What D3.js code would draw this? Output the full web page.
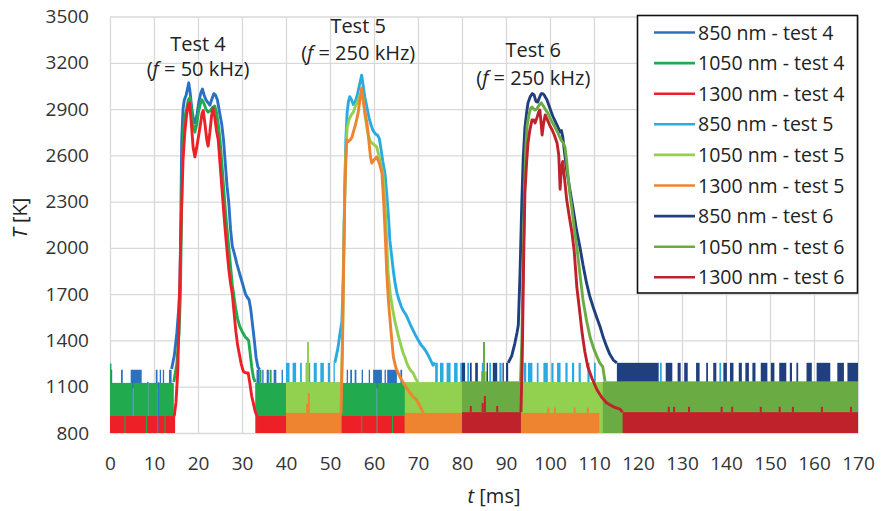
<!DOCTYPE html>
<html><head><meta charset="utf-8">
<script src="https://cdnjs.cloudflare.com/ajax/libs/d3/7.8.5/d3.min.js"></script>
<style>body{margin:0;background:#fff;} svg{display:block;font-family:"Open Sans",sans-serif;}</style>
</head><body><svg id="c" width="887" height="511"></svg>
<script>
// ---------------- DATA ----------------
const xTickValues = [0,10,20,30,40,50,60,70,80,90,100,110,120,130,140,150,160,170];
const yTickValues = [800,1100,1400,1700,2000,2300,2600,2900,3200,3500];
const seriesNames = ["850 nm - test 4","1050 nm - test 4","1300 nm - test 4",
  "850 nm - test 5","1050 nm - test 5","1300 nm - test 5",
  "850 nm - test 6","1050 nm - test 6","1300 nm - test 6"];
const annotations = [
  {test:"Test 4", freq:"50 kHz", t:20.0},
  {test:"Test 5", freq:"250 kHz", t:56.4},
  {test:"Test 6", freq:"250 kHz", t:96.2}
];

// baseline levels (K) of the noise floor of each series
const baseTop = [1210,1125,910, 1255,1130,930, 1255,1135,935];
// 850 nm noise blocks [t0,t1] (ms)
const blocks4_850 = [[0,0.5],[2.5,2.9],[4.7,7.2],[10.4,10.8],[11.3,11.6],[12.0,12.3],[13.4,14.0],[33.3,34.0],[34.6,34.9],[35.6,36.1],[37.2,37.8],[39.0,39.3],[53.8,54.1],[54.6,55.0],[55.6,56.0],[57.2,57.5],[58.8,59.1],[59.8,61.8],[62.4,62.7],[63.0,65.2],[66.0,66.4]];
const dips4_850 = [5.2,8.6,11.0,60.7];
const blocks5_850 = [[40,40.8],[41.5,42.3],[43.2,43.6],[44.5,45.5],[46.3,47],[47.8,48.6],[49.5,50],[50.8,51.1],[73.9,74.5],[75,75.8],[76.5,77.4],[78.2,79],[79.6,80.5],[81.2,81.6],[84.5,85.2],[86.2,86.6],[88.5,89],[94,94.6],[95,96],[97,97.4],[98.5,99.5],[100.3,100.8],[101.6,102.4],[103.5,104],[105,105.5],[106.5,107],[108.5,109],[110,110.4],[125,125.4],[138.5,138.9]];
const blocks6_850 = [[80,80.7],[81.8,82.2],[83,83.6],[85.6,85.9],[87,88],[89.2,89.5],[90,90.5],[115.2,124.7],[126.3,127.8],[129,129.7],[130.5,131.3],[133.2,134],[135.5,135.9],[137.1,137.8],[139.4,140.2],[140.9,141.7],[142.9,143.6],[144.4,145.2],[146,146.7],[147.9,149.4],[150.2,151],[152.1,153.7],[154.5,155],[156,156.4],[158.3,159.5],[160.6,163.7],[165.3,166.8],[167.6,170]];
// 1050 / 1300 nm noise floor intervals, gaps (ms) and spikes [t,T]
const floor4_1050 = [[0,14.5],[33.0,67.3]];
const gaps4_1050 = [5.2,8.6,11.0,60.7];
const spikes4_1050 = [[0.1,1250],[34.2,1210],[36.5,1210]];
const floor4_1300 = [[0,14.8],[33.2,67.3]];
const gaps4_1300 = [3.4,8.3,10.9,12.5,57.2,60.7,64.2];
const spikes4_1300 = [];
const floor5_1050 = [[40,52.6],[67.0,112.6]];
const gaps5_1050 = [];
const spikes5_1050 = [[44.7,1250],[45.0,1390],[85.5,1200]];
const floor5_1300 = [[40,52.5],[67.0,111.2]];
const gaps5_1300 = [];
const spikes5_1300 = [[44.8,990],[45.2,1060],[99.6,965],[101.1,965],[105.6,965],[108.6,965]];
const floor6_1050 = [[80,93.3],[112.0,170]];
const gaps6_1050 = [];
const spikes6_1050 = [[84.6,1200],[85.0,1390]];
const floor6_1300 = [[80,93.4],[116.5,170]];
const gaps6_1300 = [];
const spikes6_1300 = [[82,975],[84.7,995],[85.2,1040],[88,975],[127,970],[128.2,970],[131.6,970],[139,970],[141.4,970],[147.9,970],[152.2,970],[155.2,970],[161.8,970],[168.4,970]];

// pulses [t (ms), T (K)]
const pulse4_850 = [[14.0,1215],[14.6,1300],[15.2,1450],[15.6,1600],[15.9,1750],[16.1,2200],[16.3,2700],[16.6,2900],[16.9,2960],[17.3,2990],[17.6,3030],[17.9,3070],[18.2,3010],[18.6,2900],[19.0,2830],[19.4,2810],[19.8,2870],[20.2,2950],[20.6,3000],[21.0,3030],[21.4,2990],[21.8,2960],[22.3,2940],[22.7,2925],[23.1,2960],[23.6,3000],[24.0,2990],[24.4,2960],[24.9,2880],[25.4,2800],[25.8,2700],[26.2,2550],[26.6,2400],[27.0,2290],[27.4,2120],[27.8,2010],[28.3,1960],[28.8,1900],[29.3,1850],[29.8,1800],[30.3,1750],[30.8,1700],[31.2,1680],[31.6,1665],[32.0,1600],[32.4,1500],[32.8,1400],[33.2,1290],[33.6,1230],[34.0,1210]];
const pulse4_1050 = [[14.5,1130],[15.2,1250],[15.7,1450],[16.0,1700],[16.2,2100],[16.4,2500],[16.7,2750],[17.0,2850],[17.4,2900],[17.8,2960],[18.2,2975],[18.5,2900],[18.9,2800],[19.3,2750],[19.7,2800],[20.1,2880],[20.5,2930],[20.9,2960],[21.3,2940],[21.8,2900],[22.3,2880],[22.8,2890],[23.3,2910],[23.8,2920],[24.2,2880],[24.6,2800],[25.0,2700],[25.4,2560],[25.8,2400],[26.2,2250],[26.6,2120],[27.0,2000],[27.4,1880],[27.8,1760],[28.2,1680],[28.6,1600],[29.0,1540],[29.5,1490],[30.0,1460],[30.4,1440],[30.8,1420],[31.2,1410],[31.5,1400],[31.8,1330],[32.2,1230],[32.6,1160],[33.0,1130]];
const pulse4_1300 = [[14.6,910],[15.0,1000],[15.4,1200],[15.8,1700],[16.2,2200],[16.6,2570],[17.0,2750],[17.4,2860],[17.8,2930],[18.1,2940],[18.5,2800],[18.9,2650],[19.3,2590],[19.7,2650],[20.1,2720],[20.5,2790],[20.9,2870],[21.2,2890],[21.6,2800],[22.0,2700],[22.3,2660],[22.7,2750],[23.1,2860],[23.4,2905],[23.8,2850],[24.2,2760],[24.6,2700],[25.0,2550],[25.4,2400],[25.8,2250],[26.2,2110],[26.6,1980],[27.0,1860],[27.4,1770],[27.8,1700],[28.2,1580],[28.6,1460],[29.0,1370],[29.4,1310],[29.8,1250],[30.3,1200],[30.8,1190],[31.4,1190],[31.8,1120],[32.2,1040],[32.6,990],[33.0,940],[33.4,910]];
const pulse5_850 = [[51.1,1255],[51.8,1350],[52.3,1450],[52.7,1520],[53.0,1800],[53.3,2300],[53.6,2700],[53.9,2880],[54.2,2950],[54.5,2980],[54.9,2960],[55.3,2930],[55.7,2945],[56.1,2980],[56.5,3030],[56.9,3080],[57.2,3120],[57.5,3060],[57.9,2980],[58.4,2910],[58.9,2840],[59.4,2790],[59.8,2760],[60.3,2740],[60.8,2730],[61.2,2710],[61.6,2640],[62.0,2560],[62.5,2480],[62.9,2350],[63.3,2200],[63.6,2050],[64.0,1950],[64.4,1850],[64.8,1770],[65.2,1710],[65.7,1660],[66.2,1620],[66.7,1590],[67.2,1570],[67.7,1540],[68.3,1500],[68.9,1465],[69.5,1430],[70.1,1400],[70.7,1370],[71.2,1355],[71.8,1330],[72.4,1300],[72.9,1270],[73.4,1240],[73.9,1255]];
const pulse5_1050 = [[52.6,1130],[52.9,1500],[53.2,2100],[53.5,2550],[53.9,2780],[54.3,2830],[54.8,2860],[55.3,2880],[55.8,2920],[56.3,2950],[56.8,2990],[57.2,3005],[57.6,2950],[58.0,2850],[58.5,2760],[59.0,2700],[59.5,2680],[60.0,2670],[60.6,2655],[61.1,2600],[61.6,2530],[62.0,2485],[62.4,2350],[62.8,2100],[63.2,1840],[63.7,1700],[64.2,1610],[64.7,1530],[65.2,1470],[65.7,1410],[66.2,1360],[66.6,1320],[67.0,1293],[67.5,1250],[68.0,1220],[68.5,1200],[68.9,1189],[69.5,1150],[70.0,1130]];
const pulse5_1300 = [[52.5,930],[52.8,1300],[53.1,1900],[53.4,2400],[53.8,2700],[54.2,2690],[54.6,2700],[55.0,2719],[55.4,2760],[55.8,2800],[56.4,2875],[56.8,2960],[57.2,3036],[57.6,2950],[58.0,2870],[58.4,2810],[58.8,2700],[59.2,2590],[59.5,2550],[60.0,2570],[60.6,2589],[61.2,2550],[61.8,2485],[62.2,2300],[62.6,2050],[62.9,1837],[63.3,1650],[63.8,1480],[64.4,1293],[65.0,1220],[65.9,1163],[66.8,1120],[67.7,1079],[68.7,1040],[69.7,1014],[70.5,970],[71.2,930]];
const pulse6_850 = [[90.5,1255],[91.3,1300],[92.0,1380],[92.5,1450],[92.8,1500],[93.2,1850],[93.6,2300],[93.9,2570],[94.3,2780],[94.7,2880],[95.0,2940],[95.5,2980],[96.0,3000],[96.4,2990],[96.8,2950],[97.2,2945],[97.6,2975],[98.0,3000],[98.4,3000],[98.8,2985],[99.3,2960],[99.8,2920],[100.3,2880],[100.7,2850],[101.2,2820],[101.7,2790],[102.3,2751],[102.6,2760],[102.9,2720],[103.3,2620],[103.8,2505],[104.5,2380],[105.3,2246],[106.0,2120],[106.8,2006],[107.5,1890],[108.3,1773],[109.0,1690],[109.8,1617],[110.6,1550],[111.4,1487],[112.1,1420],[112.9,1358],[113.6,1310],[114.4,1273],[115.2,1255]];
const pulse6_1050 = [[93.3,1135],[93.6,1400],[93.9,1900],[94.2,2350],[94.5,2650],[94.8,2790],[95.2,2860],[95.6,2905],[95.9,2913],[96.3,2900],[96.6,2894],[97.0,2900],[97.5,2925],[98.0,2940],[98.5,2920],[99.0,2895],[99.5,2875],[100.2,2830],[101.0,2790],[101.8,2745],[102.5,2700],[103.0,2680],[103.4,2654],[103.8,2560],[104.2,2440],[104.5,2356],[105.0,2250],[105.5,2130],[106.1,2006],[106.8,1830],[107.5,1662],[108.3,1530],[109.1,1422],[109.9,1350],[110.7,1293],[111.3,1255],[112.0,1228],[112.5,1135]];
const pulse6_1300 = [[93.4,935],[93.7,1300],[94.0,1900],[94.3,2356],[94.7,2560],[95.0,2680],[95.4,2760],[95.9,2829],[96.3,2830],[96.6,2810],[97.0,2840],[97.4,2880],[97.7,2894],[98.0,2800],[98.2,2732],[98.5,2800],[98.9,2862],[99.4,2830],[100.0,2790],[100.5,2764],[101.0,2730],[101.6,2680],[102.0,2600],[102.3,2380],[102.6,2520],[102.9,2560],[103.3,2450],[103.8,2310],[104.4,2200],[105.0,2096],[105.5,1980],[106.1,1746],[106.7,1600],[107.3,1448],[107.9,1330],[108.6,1228],[109.6,1150],[110.7,1079],[111.8,1030],[112.9,994],[114.4,970],[115.9,955],[116.5,935]];

// ---------------- STYLE ----------------
const colors = ["#2a71c3","#22aa4f","#ee2027","#29abe2","#92d050","#ef8430","#203f7f","#6aab44","#c0222b"];

// series table built from the arrays above
const series = [
  {kind:"top", blocks:blocks4_850, dips:dips4_850, pulse:pulse4_850},
  {kind:"floor", floor:floor4_1050, gaps:gaps4_1050, spikes:spikes4_1050, pulse:pulse4_1050},
  {kind:"floor", floor:floor4_1300, gaps:gaps4_1300, spikes:spikes4_1300, pulse:pulse4_1300},
  {kind:"top", blocks:blocks5_850, dips:[], pulse:pulse5_850},
  {kind:"floor", floor:floor5_1050, gaps:gaps5_1050, spikes:spikes5_1050, pulse:pulse5_1050},
  {kind:"floor", floor:floor5_1300, gaps:gaps5_1300, spikes:spikes5_1300, pulse:pulse5_1300},
  {kind:"top", blocks:blocks6_850, dips:[], pulse:pulse6_850},
  {kind:"floor", floor:floor6_1050, gaps:gaps6_1050, spikes:spikes6_1050, pulse:pulse6_1050},
  {kind:"floor", floor:floor6_1300, gaps:gaps6_1300, spikes:spikes6_1300, pulse:pulse6_1300}
].map((s,i)=>Object.assign(s,{name:seriesNames[i], color:colors[i], top:baseTop[i]}));

// ---------------- CHART ----------------
const svg = d3.select("#c");
const L=110, R=858, T=16.5, B=433;
const x = d3.scaleLinear().domain([0,170]).range([L,R]);
const y = d3.scaleLinear().domain([800,3500]).range([B,T]);

svg.append("defs").append("clipPath").attr("id","pc")
  .append("rect").attr("x",L).attr("y",T-2).attr("width",R-L).attr("height",B-T+2);

// grid + axes
const gy = svg.append("g").attr("transform",`translate(${L},0)`)
  .call(d3.axisLeft(y).tickValues(yTickValues).tickSize(-(R-L)).tickPadding(21).tickFormat(d3.format("d")));
const gx = svg.append("g").attr("transform",`translate(0,${B})`)
  .call(d3.axisBottom(x).tickValues(xTickValues).tickSize(-(B-T)).tickPadding(24).tickFormat(d3.format("d")));
[gx,gy].forEach(g=>{
  g.select(".domain").remove();
  g.selectAll(".tick line").attr("stroke","#d9d9d9").attr("stroke-width",1.3);
  g.selectAll(".tick text").attr("fill","#333").style("font-size","19px").style("font-family","Open Sans");
});

const plot = svg.append("g").attr("clip-path","url(#pc)");
const line = d3.line().x(d=>x(d[0])).y(d=>y(d[1]));

function segs(intervals, gaps, gw){
  const out=[];
  intervals.forEach(([a,b])=>{
    const gs=gaps.filter(g=>g>a&&g<b).sort((p,q)=>p-q);
    let s=a;
    gs.forEach(g=>{out.push([s,g-gw/2]); s=g+gw/2;});
    out.push([s,b]);
  });
  return out;
}

series.forEach(s=>{
  const g = plot.append("g");
  if(s.kind==="top"){
    g.selectAll("rect.b").data(s.blocks).join("rect")
      .attr("x",d=>x(d[0])).attr("width",d=>Math.max(1.2,x(d[1])-x(d[0])))
      .attr("y",y(s.top)).attr("height",y(1090)-y(s.top)).attr("fill",s.color);
    g.selectAll("line.d").data(s.dips).join("line")
      .attr("x1",d=>x(d)).attr("x2",d=>x(d)).attr("y1",y(1130)).attr("y2",B+2)
      .attr("stroke",s.color).attr("stroke-width",1.4);
  } else {
    g.selectAll("rect.f").data(segs(s.floor,s.gaps,0.25)).join("rect")
      .attr("x",d=>x(d[0])).attr("width",d=>Math.max(0,x(d[1])-x(d[0])))
      .attr("y",y(s.top)).attr("height",B+2-y(s.top)).attr("fill",s.color);
    g.selectAll("line.s").data(s.spikes).join("line")
      .attr("x1",d=>x(d[0])).attr("x2",d=>x(d[0])).attr("y1",y(s.top)).attr("y2",d=>y(d[1]))
      .attr("stroke",s.color).attr("stroke-width",2);
  }
  g.append("path").datum(s.pulse).attr("d",line).attr("fill","none")
    .attr("stroke",s.color).attr("stroke-width",2.9).attr("stroke-linejoin","round");
});

// annotations
const ann = svg.append("g").attr("fill","#222").style("font-size","20px").attr("text-anchor","middle");
const annY = [[50.5,76],[33,60],[56.7,85]];
annotations.forEach((a,i)=>{
  ann.append("text").attr("x",x(a.t)).attr("y",annY[i][0]).text(a.test);
  const t2 = ann.append("text").attr("x",x(a.t)).attr("y",annY[i][1]);
  t2.append("tspan").text("(");
  t2.append("tspan").style("font-style","italic").text("f");
  t2.append("tspan").text(" = "+a.freq+")");
});

// axis titles
const yt = svg.append("text").attr("transform","translate(27,218) rotate(-90)").attr("text-anchor","middle")
  .attr("fill","#222").style("font-size","20px");
yt.append("tspan").style("font-style","italic").text("T");
yt.append("tspan").text(" [K]");
const xt = svg.append("text").attr("x",494).attr("y",503).attr("text-anchor","middle")
  .attr("fill","#222").style("font-size","20px");
xt.append("tspan").style("font-style","italic").text("t");
xt.append("tspan").text(" [ms]");

// legend
const lg = svg.append("g");
lg.append("rect").attr("x",637.5).attr("y",15.5).attr("width",220).attr("height",277.5)
  .attr("fill","#fff").attr("stroke","#111").attr("stroke-width",1.6);
series.forEach((s,i)=>{
  const yy = 32.5 + i*30.6;
  lg.append("line").attr("x1",654).attr("x2",695).attr("y1",yy).attr("y2",yy)
    .attr("stroke",s.color).attr("stroke-width",2.6);
  lg.append("text").attr("x",698).attr("y",yy).attr("dy","0.36em").attr("fill","#222")
    .style("font-size","19.5px").text(s.name);
});
</script></body></html>
